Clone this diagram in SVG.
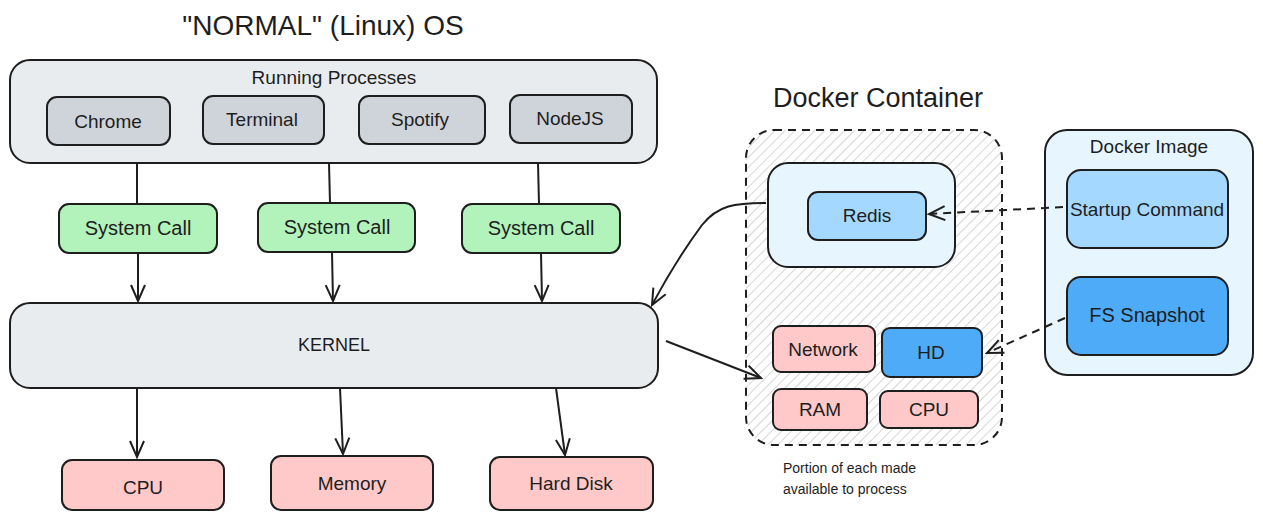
<svg xmlns="http://www.w3.org/2000/svg" width="1263" height="525" viewBox="0 0 1263 525">
<style>
.b{stroke:#1e1e1e;stroke-width:2}
.t{font-family:"Liberation Sans","DejaVu Sans",sans-serif;fill:#1e1e1e;text-anchor:middle;dominant-baseline:central}
.c{fill:none;stroke:#1e1e1e;stroke-width:2}
.d{stroke-dasharray:8 6}
.hatch{fill:url(#hatch);stroke:#1e1e1e;stroke-width:2;stroke-dasharray:8 6}
.gray{fill:#e9ecef}.proc{fill:#ced4da}.green{fill:#b2f2bb}.pink{fill:#ffc9c9}
.lb{fill:#e7f5ff}.mb{fill:#a5d8ff}.db{fill:#4dabf7}
</style>
<defs>
<marker id="ah" viewBox="0 0 20 20" refX="18" refY="10" markerWidth="20" markerHeight="20" markerUnits="userSpaceOnUse" orient="auto">
<path d="M2 3 L18 10 L2 17" fill="none" stroke="#1e1e1e" stroke-width="2"/>
</marker>
<pattern id="hatch" patternUnits="userSpaceOnUse" width="7" height="7" patternTransform="rotate(45)">
<rect width="7" height="7" fill="#ffffff"/>
<line x1="3.5" y1="0" x2="3.5" y2="7" stroke="#d6d6d6" stroke-width="1"/>
</pattern>
</defs>

<text class="t" x="323" y="25" font-size="28">"NORMAL" (Linux) OS</text>
<text class="t" x="878" y="98" font-size="27">Docker Container</text>

<g id="running-processes">
<rect class="b gray" x="10" y="60" width="647" height="103" rx="20"/>
<text class="t" x="334" y="77" font-size="19">Running Processes</text>
</g>
<g id="chrome"><rect class="b proc" x="47" y="97" width="123" height="48" rx="10"/><text class="t" x="108" y="121" font-size="19">Chrome</text></g>
<g id="terminal"><rect class="b proc" x="203" y="96" width="121" height="48" rx="10"/><text class="t" x="262" y="119" font-size="19">Terminal</text></g>
<g id="spotify"><rect class="b proc" x="359" y="96" width="126" height="48" rx="10"/><text class="t" x="420" y="119" font-size="19">Spotify</text></g>
<g id="nodejs"><rect class="b proc" x="510" y="95" width="122" height="48" rx="10"/><text class="t" x="570" y="118" font-size="19">NodeJS</text></g>

<g id="syscall1"><rect class="b green" x="59" y="204" width="158" height="49" rx="10"/><text class="t" x="138" y="228" font-size="20">System Call</text></g>
<g id="syscall2"><rect class="b green" x="258" y="203" width="157" height="49" rx="10"/><text class="t" x="337" y="227" font-size="20">System Call</text></g>
<g id="syscall3"><rect class="b green" x="462" y="204" width="158" height="49" rx="10"/><text class="t" x="541" y="228" font-size="20">System Call</text></g>

<g id="kernel"><rect class="b gray" x="10" y="303" width="648" height="85" rx="20"/><text class="t" x="334" y="345" font-size="18">KERNEL</text></g>

<g id="cpu"><rect class="b pink" x="62" y="460" width="162" height="50" rx="10"/><text class="t" x="143" y="487" font-size="19">CPU</text></g>
<g id="memory"><rect class="b pink" x="271" y="456" width="162" height="54" rx="10"/><text class="t" x="352" y="483" font-size="19">Memory</text></g>
<g id="harddisk"><rect class="b pink" x="490" y="457" width="163" height="53" rx="10"/><text class="t" x="571" y="483" font-size="19">Hard Disk</text></g>

<g id="docker-container">
<rect class="hatch" x="746" y="130" width="256" height="315" rx="28"/>
</g>
<g id="redis-container"><rect class="b lb" x="768" y="163" width="187" height="104" rx="20"/></g>
<g id="redis"><rect class="b mb" x="808" y="192" width="118" height="48" rx="10"/><text class="t" x="867" y="215" font-size="19">Redis</text></g>
<g id="network"><rect class="b pink" x="773" y="326" width="102" height="46" rx="8"/><text class="t" x="823" y="349" font-size="19">Network</text></g>
<g id="hd"><rect class="b db" x="882" y="328" width="100" height="49" rx="8"/><text class="t" x="931" y="352" font-size="19">HD</text></g>
<g id="ram"><rect class="b pink" x="773" y="389" width="94" height="41" rx="8"/><text class="t" x="820" y="409" font-size="19">RAM</text></g>
<g id="cpu2"><rect class="b pink" x="880" y="391" width="98" height="37" rx="8"/><text class="t" x="929" y="409" font-size="19">CPU</text></g>
<text class="t" x="783" y="468" font-size="14" style="text-anchor:start">Portion of each made</text>
<text class="t" x="783" y="489" font-size="14" style="text-anchor:start">available to process</text>

<g id="docker-image">
<rect class="b lb" x="1045" y="130" width="208" height="245" rx="22"/>
<text class="t" x="1149" y="146" font-size="19">Docker Image</text>
</g>
<g id="startup"><rect class="b mb" x="1067" y="170" width="161" height="78" rx="14"/><text class="t" x="1147" y="209" font-size="19">Startup Command</text></g>
<g id="fs"><rect class="b db" x="1067" y="277" width="161" height="78" rx="14"/><text class="t" x="1147" y="315" font-size="20">FS Snapshot</text></g>

<g id="connectors">
<line class="c" x1="137" y1="163" x2="137" y2="204"/>
<line class="c" x1="329" y1="163" x2="330" y2="203"/>
<line class="c" x1="538" y1="163" x2="539" y2="204"/>
<line class="c" x1="138" y1="253" x2="138" y2="301" marker-end="url(#ah)"/>
<line class="c" x1="332" y1="252" x2="333" y2="301" marker-end="url(#ah)"/>
<line class="c" x1="541" y1="253" x2="542" y2="301" marker-end="url(#ah)"/>
<line class="c" x1="137" y1="388" x2="137" y2="457" marker-end="url(#ah)"/>
<line class="c" x1="340" y1="388" x2="343" y2="454" marker-end="url(#ah)"/>
<line class="c" x1="556" y1="388" x2="565" y2="455" marker-end="url(#ah)"/>
<path class="c" d="M766 203 C735 203 718 205 702 225 C685 248 668 275 652 305" marker-end="url(#ah)"/>
<line class="c" x1="666" y1="341" x2="761" y2="378" marker-end="url(#ah)"/>
<line class="c d" x1="1063" y1="207" x2="929" y2="214" marker-end="url(#ah)"/>
<line class="c d" x1="1065" y1="318" x2="987" y2="353" marker-end="url(#ah)"/>
</g>
</svg>
